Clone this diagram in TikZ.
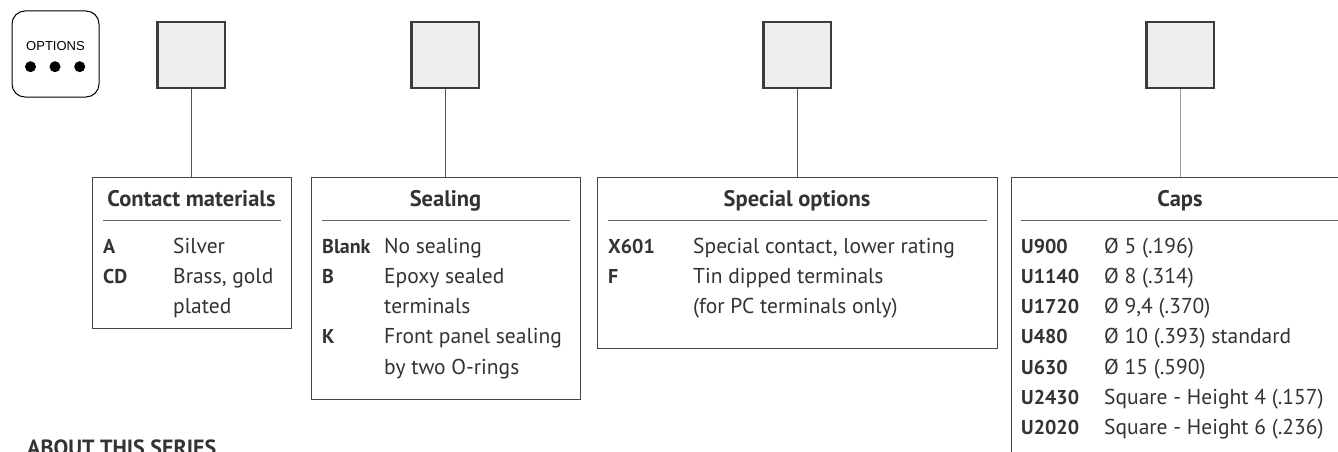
\documentclass[tikz,border=0pt]{standalone}
\usepackage{fontspec}
\setmainfont{PT Sans}
\newfontfamily\arialfont{Liberation Sans}
\definecolor{txt}{HTML}{333333}
\definecolor{boxc}{HTML}{444444}
\definecolor{sqc}{HTML}{3C3C3C}
\definecolor{sqfill}{HTML}{EEEEEE}
\definecolor{connc}{HTML}{555555}
\definecolor{sepc}{HTML}{666666}
\begin{document}
\begin{tikzpicture}[x=1pt,y=-1pt,
  sel/.style={draw=sqc, line width=2.5pt, fill=sqfill, minimum width=67.5pt, minimum height=65.5pt, inner sep=0pt},
  panel/.style={draw=boxc, line width=1pt, inner sep=0pt, anchor=north west},
  conn/.style={draw=connc, line width=1pt},
  sepline/.style={draw=sepc, line width=1pt},
  hdr/.style={font=\bfseries\fontsize{22.5}{26}\selectfont, text=txt, anchor=base, inner sep=0pt},
  code/.style={font=\bfseries\fontsize{20}{26}\selectfont, text=txt, anchor=base west, inner sep=0pt},
  desc/.style={font=\fontsize{21.5}{26}\selectfont, text=txt, anchor=base west, inner sep=0pt}]
\useasboundingbox (0,0) rectangle (1338,452);
\clip (0,0) rectangle (1338,452);
\fill[white] (0,0) rectangle (1338,452);

% options badge
\node[draw=black, line width=1pt, rounded corners=13pt, minimum width=87pt, minimum height=86pt, inner sep=0pt] (opt) at (55.5,54) {};
\node[font=\arialfont\fontsize{13}{15}\selectfont, inner sep=0pt, anchor=base] (optt) at (55.5,51) {OPTIONS};
\fill[black] (30.5,66.7) circle (5.5pt) (55,66.7) circle (5.5pt) (79.7,66.7) circle (5.5pt);

% selector squares
\node[sel] (sq1) at (191,55) {};
\node[sel] (sq2) at (445,55) {};
\node[sel] (sq3) at (797,55) {};
\node[sel] (sq4) at (1180,55) {};

% panels
\node[panel, minimum width=199pt, minimum height=151pt] (cm) at (92,177) {};
\node[panel, minimum width=269pt, minimum height=222pt] (se) at (311,177) {};
\node[panel, minimum width=400pt, minimum height=171pt] (so) at (597,177) {};
\node[panel, minimum width=338pt, minimum height=300pt] (ca) at (1011,177) {};

% connectors
\draw[conn] (sq1.south) -- (sq1.south |- cm.north);
\draw[conn] (sq2.south) -- (sq2.south |- se.north);
\draw[conn] (sq3.south) -- (sq3.south |- so.north);
\draw[conn, draw=gray!80] (sq4.south) -- (sq4.south |- ca.north);

% headers
\node[hdr] (cmh) at (191.5,206) {Contact materials};
\node[hdr] (seh) at (445.5,206) {Sealing};
\node[hdr] (soh) at (797,206) {Special options};
\node[hdr] (cah) at (1180,206) {Caps};

% separators
\draw[sepline] (103,220) -- (281,220);
\draw[sepline] (322,220) -- (570,220);
\draw[sepline] (608,220) -- (987,220);
\draw[sepline] (1021,220) -- (1338,220);

% contact materials
\node[code] (cm1c) at (103,253) {A};
\node[desc] (cm1d) at (173,253) {Silver};
\node[code] (cm2c) at (103,283.3) {CD};
\node[desc] (cm2d) at (173,283.3) {Brass, gold};
\node[desc] (cm3d) at (173,313.6) {plated};

% sealing
\node[code] (se1c) at (322,253) {Blank};
\node[desc] (se1d) at (384,253) {No sealing};
\node[code] (se2c) at (322,283.3) {B};
\node[desc] (se2d) at (384,283.3) {Epoxy sealed};
\node[desc] (se3d) at (384,313.6) {terminals};
\node[code] (se4c) at (322,343.9) {K};
\node[desc] (se4d) at (384,343.9) {Front panel sealing};
\node[desc] (se5d) at (384,374.2) {by two O-rings};

% special options
\node[code] (so1c) at (608,253) {X601};
\node[desc] (so1d) at (693,253) {Special contact, lower rating};
\node[code] (so2c) at (608,283.3) {F};
\node[desc] (so2d) at (693,283.3) {Tin dipped terminals};
\node[desc] (so3d) at (693,313.6) {(for PC terminals only)};

% caps
\node[code] (ca1c) at (1021,253) {U900};
\node[desc] (ca1d) at (1104,253) {Ø 5 (.196)};
\node[code] (ca2c) at (1021,283.3) {U1140};
\node[desc] (ca2d) at (1104,283.3) {Ø 8 (.314)};
\node[code] (ca3c) at (1021,313.6) {U1720};
\node[desc] (ca3d) at (1104,313.6) {Ø 9,4 (.370)};
\node[code] (ca4c) at (1021,343.9) {U480};
\node[desc] (ca4d) at (1104,343.9) {Ø 10 (.393) standard};
\node[code] (ca5c) at (1021,374.2) {U630};
\node[desc] (ca5d) at (1104,374.2) {Ø 15 (.590)};
\node[code] (ca6c) at (1021,404.5) {U2430};
\node[desc] (ca6d) at (1104,404.5) {Square - Height 4 (.157)};
\node[code] (ca7c) at (1021,434.8) {U2020};
\node[desc] (ca7d) at (1104,434.8) {Square - Height 6 (.236)};

% footer heading (cut off at the lower edge, as in the reference)
\node[font=\bfseries\fontsize{22}{26}\selectfont, text=txt, anchor=base west, inner sep=0pt] (about) at (27,455) {ABOUT THIS SERIES};
\end{tikzpicture}
\end{document}
